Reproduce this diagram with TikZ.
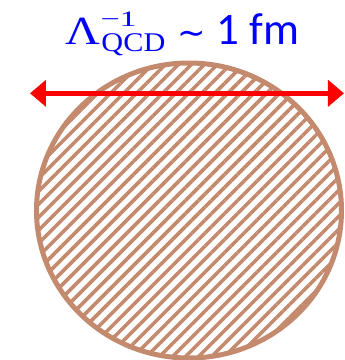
\documentclass[tikz,border=0pt]{standalone}
\usepackage{fontspec}
\setmainfont{Carlito}
\newfontfamily\lserif{Liberation Serif}
\newfontfamily\dvsans{DejaVu Sans}
\usetikzlibrary{arrows.meta,patterns.meta,shapes.geometric}
\definecolor{hadron}{RGB}{196,138,110}
\definecolor{scalered}{RGB}{255,0,0}
\definecolor{labelblue}{RGB}{0,0,255}
\tikzset{
  hadronblob/.style={ellipse, draw=hadron, line width=5pt, inner sep=0pt,
    minimum width=305pt, minimum height=295pt,
    pattern={Lines[angle=45,distance=9.2pt,line width=3.6pt]}, pattern color=hadron},
  sizearrow/.style={draw=scalered, line width=4.5pt,
    {Triangle[length=16pt,width=26pt]}-{Triangle[length=16pt,width=26pt]}},
  lbl/.style={text=labelblue, inner sep=0pt, outer sep=0pt, anchor=base west}
}
\begin{document}
\begin{tikzpicture}[x=1pt,y=-1pt]
\useasboundingbox (0,0) rectangle (345,360);
\node[hadronblob] (blob) at (189,210.5) {};
\coordinate (L) at (30,93.3);
\coordinate (R) at (344,93.3);
\draw[sizearrow] (L) -- (R);
\node[lbl] (lam) at (66,44.3) {\scalebox{1.2}[1]{\lserif\fontsize{40}{40}\selectfont Λ}};
\node[lbl] (sup) at (100.5,26.3) {\scalebox{1.55}[1]{\lserif\fontsize{22}{22}\selectfont −1}};
\node[lbl] (sub) at (101.5,51.7) {\scalebox{1.12}[1]{\lserif\fontsize{27}{27}\selectfont QCD}};
\node[lbl] (sim) at (177.5,44.3) {\dvsans\fontsize{34}{34}\selectfont ∼};
\node[lbl] (fm) at (216.5,44.3) {\fontsize{45}{45}\selectfont 1 fm};
\end{tikzpicture}
\end{document}
